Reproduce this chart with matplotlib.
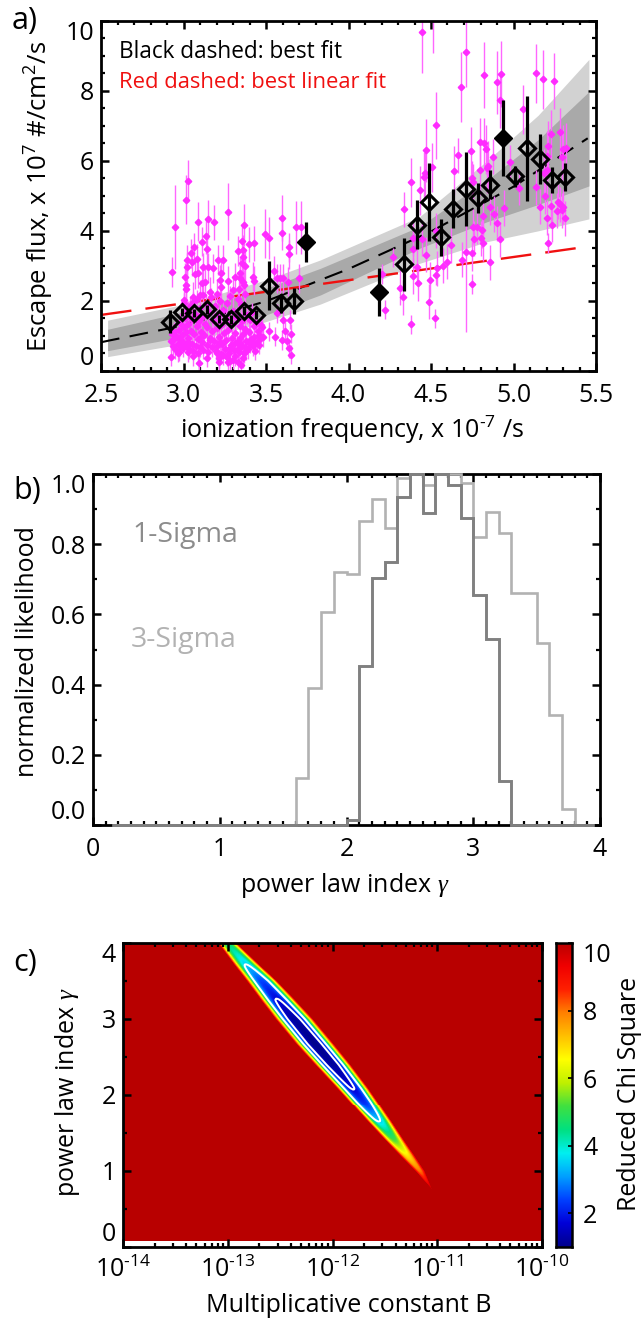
import numpy as np
import matplotlib
matplotlib.use('Agg')
import matplotlib.pyplot as plt
from matplotlib.colors import LinearSegmentedColormap
from matplotlib.ticker import MultipleLocator, FixedLocator, NullFormatter, FormatStrFormatter, LogLocator

plt.rcParams['font.family'] = ['Open Sans', 'DejaVu Sans']
plt.rcParams['mathtext.fontset'] = 'custom'
plt.rcParams['mathtext.rm'] = 'Open Sans'
plt.rcParams['mathtext.it'] = 'Liberation Serif:italic'
plt.rcParams['mathtext.default'] = 'rm'

W, H = 642, 1320

# ---------- panel a data ----------
bin_x = [2.918, 2.993, 3.066, 3.14, 3.215, 3.29, 3.365, 3.44, 3.52, 3.59, 3.667, 4.338, 4.413, 4.486,
         4.562, 4.635, 4.71, 4.785, 4.86, 5.01, 5.084, 5.16, 5.235, 5.31]
bin_y = [1.41, 1.68, 1.65, 1.76, 1.49, 1.47, 1.71, 1.61, 2.43, 1.93, 2.0, 3.04, 4.17, 4.82,
         3.81, 4.63, 5.2, 4.93, 5.32, 5.55, 6.35, 6.04, 5.45, 5.53]
bin_err = [0.33, 0.12, 0.12, 0.12, 0.12, 0.12, 0.12, 0.12, 0.7, 0.27, 0.38, 0.76, 0.7, 1.12,
           0.54, 0.55, 1.05, 0.42, 0.42, 0.3, 1.5, 0.71, 0.36, 0.4]
filled_x = [3.74, 4.187, 4.934]
filled_y = [3.68, 2.26, 6.65]
filled_err = [0.56, 0.68, 1.09]

band_x = [2.54, 3.0, 3.5, 3.83, 4.43, 4.84, 5.15, 5.457]
light_up = [1.45, 1.9, 2.6, 3.17, 4.4, 6.0, 7.3, 8.89]
dark_up = [1.19, 1.68, 2.36, 2.93, 4.12, 5.45, 6.6, 7.97]
dark_lo = [0.58, 0.98, 1.6, 2.17, 3.5, 4.26, 4.75, 5.28]
light_lo = [0.41, 0.78, 1.41, 1.91, 3.07, 3.69, 4.0, 4.34]

fit_x = [2.5, 2.55, 3.0, 3.5, 4.0, 4.5, 5.0, 5.45]
fit_y = [0.82, 0.87, 1.3, 1.99, 2.91, 3.98, 5.26, 6.64]
lin_x = [2.5, 5.42]
lin_y = [1.6, 3.53]

top_x = [2.948, 3.025, 3.017, 3.086, 3.15, 3.183, 3.268, 3.134, 3.369, 3.397, 3.429, 3.494, 3.52, 3.599, 3.599,
         3.682, 3.714]
top_y = [4.11, 5.43, 4.89, 4.26, 4.33, 4.24, 4.55, 3.85, 4.16, 3.61, 3.64, 3.91, 3.79, 4.37, 3.94,
         4.10, 4.10]
top_err = [1.2, 0.6, 0.7, 0.55, 0.55, 0.5, 0.8, 0.5, 0.6, 0.5, 0.5, 0.7, 0.6, 0.65, 0.5, 0.75, 0.75]

mid_x = [2.932, 3.114, 3.065, 3.14, 3.044, 3.084, 3.02, 3.05, 3.211, 3.241, 3.023, 3.09, 3.07, 3.225, 3.12,
         3.15, 3.18, 3.009, 3.221, 3.27, 3.13, 3.013, 3.11, 3.23, 3.013, 3.0, 3.06, 3.1, 3.353, 3.332,
         3.359, 3.363, 3.353, 3.373, 3.423, 3.427, 3.312, 3.342, 3.362, 3.641, 3.639, 3.70, 3.55, 3.605, 3.585,
         3.565, 3.635, 3.16, 3.2, 3.3, 3.335, 3.345, 3.365]
mid_y = [2.83, 3.69, 3.53, 3.48, 3.36, 3.19, 3.17, 3.12, 3.17, 3.17, 2.96, 2.80, 2.77, 2.79, 2.96,
         2.96, 2.93, 2.67, 2.60, 2.57, 2.55, 2.46, 2.50, 2.40, 2.33, 2.03, 2.12, 2.17, 3.71, 3.42,
         3.45, 3.24, 3.07, 3.0, 2.69, 2.58, 2.67, 2.64, 2.55, 3.53, 3.33, 2.64, 2.85, 2.64, 2.64,
         2.64, 2.55, 2.25, 2.2, 2.3, 2.35, 2.8, 2.45]
mid_err = 0.42

cloud_x = [2.925, 2.93, 2.935, 2.94, 2.945, 2.95, 2.96, 2.965, 2.97, 2.975,
           2.98, 2.985, 2.99, 2.995, 3.0, 3.0, 3.005, 3.01, 3.015, 3.02,
           3.025, 3.03, 3.03, 3.035, 3.04, 3.045, 3.05, 3.05, 3.055, 3.06,
           3.065, 3.07, 3.075, 3.08, 3.08, 3.085, 3.09, 3.095, 3.1, 3.1,
           3.105, 3.11, 3.115, 3.12, 3.12, 3.125, 3.13, 3.135, 3.14, 3.145,
           3.15, 3.155, 3.16, 3.165, 3.17, 3.175, 3.18, 3.185, 3.19, 3.195,
           3.2, 3.205, 3.21, 3.215, 3.22, 3.225, 3.23, 3.235, 3.24, 3.245,
           3.25, 3.255, 3.26, 3.265, 3.27, 3.275, 3.28, 3.285, 3.29, 3.295,
           3.3, 3.305, 3.31, 3.315, 3.32, 3.325, 3.33, 3.335, 3.34, 3.345,
           3.35, 3.352, 3.355, 3.36, 3.365, 3.37, 3.375, 3.38, 3.385, 3.39,
           3.395, 3.4, 3.405, 3.41, 3.415, 3.42, 3.425, 3.43, 3.435, 3.44,
           3.445, 3.45, 3.455, 3.46, 3.465, 3.47, 3.3, 3.24, 3.14, 3.06,
           3.34, 3.37, 3.22, 3.16, 3.1, 3.03, 2.98, 3.28, 3.33, 3.2,
           2.922, 2.969, 3.025, 3.096, 3.215, 3.215, 3.266, 3.27, 3.332, 3.347,
           3.363, 3.282, 3.377, 3.312, 3.423, 3.342, 3.478, 3.48, 3.52, 3.555,
           3.595, 3.615, 3.65, 3.63, 3.641, 3.65, 3.565, 3.605, 3.645]
cloud_y = [0.85, 1.05, 0.72, 0.92, 1.12, 0.62, 0.98, 0.78, 1.18, 0.55,
           1.38, 0.88, 1.02, 0.66, 1.25, 1.95, 0.8, 1.52, 1.1, 0.72,
           1.72, 0.95, 1.33, 0.62, 1.85, 1.15, 0.78, 1.48, 0.58, 1.98,
           1.05, 1.62, 0.7, 1.28, 2.05, 0.9, 0.52, 1.42, 1.8, 0.68,
           1.12, 0.82, 1.55, 2.18, 0.6, 1.02, 1.35, 1.92, 0.75, 1.25,
           0.55, 1.68, 0.95, 2.1, 1.15, 0.68, 1.45, 0.85, 1.85, 0.58,
           1.22, 0.72, 1.6, 0.98, 2.0, 0.48, 1.32, 0.78, 1.75, 1.08,
           0.62, 1.5, 0.88, 1.95, 1.18, 0.5, 2.15, 0.75, 1.38, 0.95,
           1.72, 0.6, 1.08, 0.42, 1.55, 0.82, 2.05, 0.55, 1.28, 0.95,
           1.9, 0.72, 1.42, 1.05, 0.5, 2.2, 1.2, 0.85, 1.6, 0.62,
           1.12, 0.78, 1.45, 0.92, 1.68, 0.7, 1.28, 0.98, 0.58, 1.38,
           0.82, 1.15, 1.02, 0.75, 0.9, 1.3, 0.32, 0.45, 0.38, 0.42,
           0.8, 0.68, 0.82, 0.88, 0.95, 0.82, 0.7, 0.65, 0.62, 0.52,
           0.41, 0.52, 0.53, 0.22, 0.36, 0.25, 0.41, 0.27, 0.27, 0.17,
           0.36, 0.29, 0.57, 0.79, 0.82, 0.69, 1.26, 0.96, 1.14, 0.98,
           0.88, 1.14, 1.06, 0.86, 0.65, 0.47, 1.65, 1.46, 1.46]
cloud_err = 0.27

high_a_x = [4.443, 4.712, 4.514, 4.68, 4.821, 4.924, 4.902, 4.916, 5.138, 5.176, 5.247, 4.53, 4.471]
high_a_y = [9.66, 9.10, 10.7, 8.10, 8.44, 8.47, 8.24, 7.73, 8.49, 8.32, 8.27, 7.01, 6.3]
high_a_err = [1.17, 1.0, 1.64, 1.0, 0.95, 0.95, 0.9, 0.8, 0.85, 0.85, 0.8, 0.95, 0.9]
long_x = [4.712]
long_y = [3.4]
long_err = [2.3]
high_b_x = [5.059, 4.379, 4.435, 4.461, 4.508, 4.457, 4.639, 4.744, 4.797, 4.823, 4.831, 4.847, 4.797, 4.837,
            5.201, 5.225, 5.281, 5.209, 5.302, 5.318, 5.292, 5.185, 5.201]
high_b_y = [7.47, 5.38, 5.15, 5.64, 5.81, 5.54, 5.71, 6.27, 6.52, 6.51, 6.33, 5.86, 5.73, 5.78,
            6.14, 6.75, 6.81, 6.43, 6.33, 6.37, 6.11, 5.64, 5.73]
high_b_err = 0.7
high_c_x = [4.338, 4.663, 4.873, 4.976, 4.746, 4.756, 5.035, 5.138, 5.191, 5.162, 5.227, 5.267, 5.281, 5.261,
            5.292, 5.298, 5.2, 5.31, 5.233, 4.942, 4.857, 4.884, 4.898, 4.918, 4.817, 4.811, 4.752, 4.781,
            4.76, 4.8, 4.813, 4.623, 4.53, 4.443, 4.389, 4.393, 4.469, 4.415, 4.534, 4.599, 4.575, 4.69,
            4.746, 4.855, 4.391, 4.494, 4.423, 4.312, 4.332, 4.488]
high_c_y = [4.61, 6.15, 6.11, 5.95, 5.5, 5.4, 5.23, 5.24, 4.99, 4.69, 4.72, 4.83, 4.76, 4.57,
            4.59, 4.69, 4.37, 4.36, 4.17, 4.65, 4.67, 4.48, 4.21, 3.76, 4.42, 4.02, 4.12, 4.12,
            3.77, 3.79, 3.64, 3.59, 4.0, 3.78, 3.79, 3.49, 3.32, 2.98, 2.93, 3.12, 3.0, 3.17,
            3.36, 3.1, 2.71, 2.6, 2.51, 2.38, 2.1, 1.97]
high_c_err = 0.5
high_d_x = [5.209, 4.267, 4.53, 4.746, 4.221, 4.524, 4.376, 4.2]
high_d_y = [3.66, 3.24, 2.74, 2.48, 1.75, 1.5, 1.33, 2.77]
high_d_err = 0.28

# ---------- panel b data ----------
three_edges = [0.15, 1.6, 1.7, 1.8, 1.9, 2.0, 2.1, 2.2, 2.3, 2.4, 2.5, 2.6, 2.7, 2.8, 2.9, 3.0, 3.1, 3.2, 3.3, 3.4, 3.5, 3.6, 3.7, 3.8, 3.95]
three_vals = [0, 0.135, 0.39, 0.607, 0.722, 0.715, 0.866, 0.928, 0.847, 0.99, 1.0, 0.97, 1.0, 1.0, 0.973, 0.82, 0.893, 0.833, 0.66, 0.66, 0.518, 0.313, 0.045, 0]
one_edges = [0.15, 2.0, 2.1, 2.2, 2.3, 2.4, 2.5, 2.6, 2.7, 2.8, 2.9, 3.0, 3.1, 3.2, 3.3, 3.95]
one_vals = [0, 0.015, 0.452, 0.703, 0.75, 0.935, 1.0, 0.89, 1.0, 0.97, 0.875, 0.656, 0.53, 0.125, 0]

# ---------- panel c data: ridge read per gamma row ----------
ridge_gamma = [0.75, 1.0, 1.2, 1.4, 1.65, 1.9, 2.09, 2.4, 2.67, 3.0, 3.25, 3.5, 3.72, 3.98, 4.1]
ridge_logb = [-11.05, -11.17, -11.29, -11.41, -11.555, -11.7, -11.81, -12.0, -12.17, -12.37, -12.525, -12.68, -12.83, -13.0, -13.08]
ridge_halfwidth = [0.0, 0.045, 0.07, 0.09, 0.115, 0.135, 0.15, 0.17, 0.18, 0.18, 0.165, 0.145, 0.12, 0.09, 0.085]
ridge_min = [10.0, 8.0, 6.8, 5.2, 3.5, 2.2, 1.7, 1.15, 1.0, 1.2, 1.7, 2.4, 3.5, 4.6, 5.0]
contour_levels = [1.75, 3.5]
cmap_colors = ['#00008c', '#0000d8', '#0040ff', '#00a0ff', '#00f0f0', '#00e080', '#40e040', '#c0f000',
               '#ffff00', '#ffc000', '#ff8000', '#ff2000', '#f00000', '#b80000']
cmap = LinearSegmentedColormap.from_list('chi', cmap_colors)
a_yticks = [0, 2, 4, 6, 8, 10]
b_yticks = [0, 0.2, 0.4, 0.6, 0.8, 1.0]
c_yticks = [0, 1, 2, 3, 4]
c_xticks = [1e-14, 1e-13, 1e-12, 1e-11, 1e-10]
c_xlabels = [r'10$^{\text{-}14}$', r'10$^{\text{-}13}$', r'10$^{\text{-}12}$', r'10$^{\text{-}11}$', r'10$^{\text{-}10}$']


def axes_px(l, t, r, b):
    return fig.add_axes([l / W, 1 - b / H, (r - l) / W, (b - t) / H])


def style(ax, lw=2.0, xpad=9):
    for s in ax.spines.values():
        s.set_linewidth(lw)
        s.set_zorder(20)
    ax.tick_params(which='major', direction='in', top=True, right=True, length=5.5, width=1.8, labelsize=18)
    ax.tick_params(which='minor', direction='in', top=True, right=True, length=2.8, width=1.6)
    ax.tick_params(axis='x', which='major', pad=xpad)
    ax.tick_params(axis='y', which='major', pad=5)


def inset_end_labels(ax):
    labs = ax.get_yticklabels()
    labs[0].set_va('bottom')
    labs[-1].set_va('top')


def place_xlabel(ax, text, px, py, size=18):
    ax.set_xlabel(text, fontsize=size, va='center', ha='center')
    ax.xaxis.set_label_coords(px / W, 1 - py / H, transform=fig.transFigure)


def place_ylabel(ax, text, px, py, size=18):
    ax.set_ylabel(text, fontsize=size, va='center', ha='center')
    ax.yaxis.set_label_coords(px / W, 1 - py / H, transform=fig.transFigure)


fig = plt.figure(figsize=(W / 100, H / 100), dpi=100)
fig.patch.set_facecolor('white')

# ---------- panel a ----------
ax = axes_px(101, 20.5, 596, 371)
ax.fill_between(band_x, light_lo, light_up, color='#d2d2d2', lw=0, zorder=1)
ax.fill_between(band_x, dark_lo, dark_up, color='#a9a9a9', lw=0, zorder=2)
ax.plot(fit_x, fit_y, color='k', lw=1.5, dashes=(9, 5), zorder=3)
ax.plot(lin_x, lin_y, color='#f01010', lw=1.7, dashes=(13, 6), zorder=3)
groups = [(top_x, top_y, top_err), (mid_x, mid_y, mid_err), (cloud_x, cloud_y, cloud_err),
          (high_a_x, high_a_y, high_a_err), (long_x, long_y, long_err), (high_b_x, high_b_y, high_b_err),
          (high_c_x, high_c_y, high_c_err), (high_d_x, high_d_y, high_d_err)]
for gx, gy, ge in groups:
    ax.errorbar(gx, gy, yerr=ge, fmt='D', ms=3.3, color='#ff2bff', ecolor='#ff66ff', elinewidth=1.0, capsize=0, zorder=4)
ax.errorbar(bin_x, bin_y, yerr=bin_err, fmt='none', ecolor='k', elinewidth=2.3, capsize=0, zorder=6)
ax.plot(bin_x, bin_y, 'D', ms=7.8, mfc='none', mec='k', mew=2.2, zorder=7)
ax.errorbar(filled_x, filled_y, yerr=filled_err, fmt='D', ms=9, color='k', ecolor='k', elinewidth=2.3, capsize=0, zorder=7)
ax.set_xlim(2.5, 5.5)
ax.set_ylim(0, 10)
ax.xaxis.set_major_locator(MultipleLocator(0.5))
ax.xaxis.set_minor_locator(MultipleLocator(0.1))
ax.xaxis.set_major_formatter(FormatStrFormatter('%.1f'))
ax.set_yticks(a_yticks)
ax.yaxis.set_minor_locator(MultipleLocator(0.5))
style(ax)
inset_end_labels(ax)
place_xlabel(ax, r'ionization frequency, x 10$^{\text{-}7}$ /s', 352, 430)
place_ylabel(ax, r'Escape flux, x 10$^{7}$ #/cm$^{2}$/s', 39, 196, 18.5)
fig.text(119 / W, 1 - 52 / H, 'Black dashed: best fit', fontsize=16.3, color='k', va='center')
fig.text(119 / W, 1 - 83 / H, 'Red dashed: best linear fit', fontsize=15.8, color='#f01010', va='center')
fig.text(12 / W, 1 - 21 / H, 'a)', fontsize=22, va='center')

# ---------- panel b ----------
ax = axes_px(93, 474, 600, 825)
ax.stairs(three_vals, three_edges, color='#b2b2b2', lw=1.9, baseline=None, zorder=25, clip_on=False)
ax.stairs(one_vals, one_edges, color='#808080', lw=2.1, baseline=None, zorder=26, clip_on=False)
ax.set_xlim(0, 4)
ax.set_ylim(0, 1)
ax.xaxis.set_major_locator(MultipleLocator(1))
ax.xaxis.set_minor_locator(MultipleLocator(0.1))
ax.set_yticks(b_yticks)
ax.yaxis.set_minor_locator(MultipleLocator(0.1))
ax.yaxis.set_major_formatter(FormatStrFormatter('%.1f'))
style(ax)
inset_end_labels(ax)
place_xlabel(ax, r'power law index $\mathit{\gamma}$', 345, 885)
place_ylabel(ax, 'normalized likelihood', 28, 652)
fig.text(132 / W, 1 - 535 / H, '1-Sigma', fontsize=20.5, color='#8c8c8c', va='center')
fig.text(131 / W, 1 - 640 / H, '3-Sigma', fontsize=20.5, color='#b2b2b2', va='center')
fig.text(13 / W, 1 - 491 / H, 'b)', fontsize=22, va='center')

# ---------- panel c ----------
ax = axes_px(123, 943, 542, 1247)
g = np.linspace(0.09, 4.0, 300)
lb = np.linspace(-14, -10, 420)
center = np.interp(g, ridge_gamma, ridge_logb)
hw = np.interp(g, ridge_gamma, ridge_halfwidth)
vmin_row = np.interp(g, ridge_gamma, ridge_min)
Z = np.full((g.size, lb.size), 10.0)
inside = (g >= ridge_gamma[0]) & (hw > 0)
for i in np.where(inside)[0]:
    Z[i] = np.minimum(10.0, vmin_row[i] + (10 - vmin_row[i]) * (np.abs(lb - center[i]) / hw[i]) ** 2.5)
ax.pcolormesh(10.0 ** lb, g, Z, cmap=cmap, vmin=1, vmax=10, shading='auto', zorder=1, rasterized=True)
ax.contour(10.0 ** lb, g, Z, levels=contour_levels, colors='white', linewidths=1.4, zorder=2)
ax.set_xscale('log')
ax.set_xlim(1e-14, 1e-10)
ax.set_ylim(0, 4)
ax.xaxis.set_major_locator(FixedLocator(c_xticks))
ax.set_xticklabels(c_xlabels)
ax.xaxis.set_minor_locator(LogLocator(base=10, subs=range(2, 10), numticks=12))
ax.xaxis.set_minor_formatter(NullFormatter())
ax.set_yticks(c_yticks)
ax.yaxis.set_minor_locator(MultipleLocator(0.5))
style(ax, xpad=7)
inset_end_labels(ax)
place_xlabel(ax, 'Multiplicative constant B', 349, 1305)
place_ylabel(ax, r'power law index $\mathit{\gamma}$', 67, 1092)
fig.text(13 / W, 1 - 963 / H, 'c)', fontsize=22, va='center')

cax = axes_px(556, 943, 572, 1247)
grad = np.linspace(1, 10, 256).reshape(-1, 1)
cax.imshow(grad, origin='lower', aspect='auto', cmap=cmap, vmin=1, vmax=10, extent=[0, 1, 1, 10])
cax.set_xticks([])
cax.yaxis.tick_right()
cax.set_yticks([2, 4, 6, 8, 10])
cax.tick_params(axis='y', direction='in', length=3, width=1.2, pad=8, labelsize=18)
cax.get_yticklabels()[-1].set_va('top')
for s in cax.spines.values():
    s.set_linewidth(1.8)
cax.yaxis.set_label_position('right')
place_ylabel(cax, 'Reduced Chi Square', 629, 1094)

fig.savefig('out.png', dpi=100)
